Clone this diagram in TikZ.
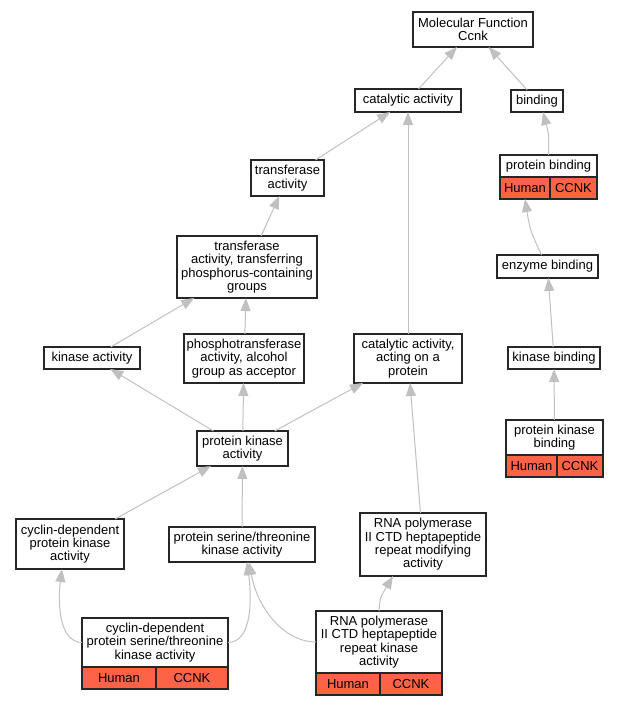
\documentclass[tikz,border=0pt]{standalone}
\usepackage{fontspec}
\setmainfont{Liberation Sans}
\usetikzlibrary{arrows.meta}
\usetikzlibrary{calc}
\definecolor{geneRed}{RGB}{255,99,71}
\definecolor{linkGray}{RGB}{192,192,192}
\newcommand{\drawCells}[3]{
	\node[cell, minimum width=#2, anchor=north west] (#1_human) at (#1.south west) {Human};
	\node[cell, minimum width=#3, anchor=north east] (#1_gene) at (#1.south east) {CCNK};
}

\begin{document}
\begin{tikzpicture}[x=1pt, y=-1pt,
		term/.style={draw=black!85, line width=1.2pt, fill=white, inner sep=0pt, outer sep=0pt, align=center, font=\fontsize{13}{13.3}\selectfont},
		cell/.style={term, fill=geneRed, minimum height=22pt},
		link/.style={draw=linkGray, line width=1pt, -{Triangle[length=13pt,width=10pt]}}]
		\useasboundingbox (0,0) rectangle (619,707);

		% terms
		\node[term, minimum width=120, minimum height=35] (mf) at (473,29.5) {Molecular Function\\Ccnk};
		\node[term, minimum width=106, minimum height=23] (cat) at (408,100.5) {catalytic activity};
		\node[term, minimum width=52, minimum height=22] (bind) at (537,101) {binding};
		\node[term, minimum width=97, minimum height=22] (pbind) at (548.5,166) {protein binding};
		\drawCells{pbind}{50}{47}
		\node[term, minimum width=73, minimum height=36] (trans) at (287.5,178) {transferase\\activity};
		\node[term, minimum width=101, minimum height=23] (enz) at (547.5,266.5) {enzyme binding};
		\node[term, minimum width=140, minimum height=62] (tpc) at (247,267) {transferase\\activity, transferring\\phosphorus-containing\\groups};
		\node[term, minimum width=96, minimum height=22] (kin) at (92,358) {kinase activity};
		\node[term, minimum width=120, minimum height=49] (phos) at (244,358.5) {phosphotransferase\\activity, alcohol\\group as acceptor};
		\node[term, minimum width=108, minimum height=49] (catprot) at (408,358.5) {catalytic activity,\\acting on a\\protein};
		\node[term, minimum width=92, minimum height=22] (kbind) at (554,358) {kinase binding};
		\node[term, minimum width=91, minimum height=35] (pka) at (242.5,448.5) {protein kinase\\activity};
		\node[term, minimum width=97, minimum height=35] (pkb) at (554.5,437.5) {protein kinase\\binding};
		\drawCells{pkb}{51}{46}
		\node[term, minimum width=108, minimum height=50] (cdk) at (70,544) {cyclin-dependent\\protein kinase\\activity};
		\node[term, minimum width=146, minimum height=35] (sert) at (242,544.5) {protein serine/threonine\\kinase activity};
		\node[term, minimum width=126, minimum height=63] (rnamod) at (423,544.5) {RNA polymerase\\II CTD heptapeptide\\repeat modifying\\activity};
		\node[term, minimum width=146, minimum height=49] (cdkst) at (155,642.5) {cyclin-dependent\\protein serine/threonine\\kinase activity};
		\drawCells{cdkst}{74}{72}
		\node[term, minimum width=126, minimum height=62] (rnak) at (379,642) {RNA polymerase\\II CTD heptapeptide\\repeat kinase\\activity};
		\drawCells{rnak}{64}{62}

		% links
		\draw[link] (cat) -- (mf);
		\draw[link] (bind) -- (mf);
		\draw[link] (pbind.north) .. controls (549,135) .. ($(bind.south)+(6,0)$);
		\draw[link] ($(enz.north)+(-6,0)$) .. controls (530,230) .. (pbind_human.south);
		\draw[link] (kbind) -- (enz);
		\draw[link] (pkb) -- (kbind);
		\draw[link] (trans) -- (cat);
		\draw[link] (tpc) -- (trans);
		\draw[link] (kin) -- (tpc);
		\draw[link] (phos) -- (tpc);
		\draw[link] (catprot) -- (cat);
		\draw[link] (pka) -- (kin);
		\draw[link] (pka) -- (phos);
		\draw[link] (pka) -- (catprot);
		\draw[link] (cdk) -- (pka);
		\draw[link] (sert) -- (pka);
		\draw[link] (rnamod) -- (catprot);
		\draw[link] (cdkst.west) .. controls (58,642) and (58,600) .. ($(cdk.south)+(-8,0)$);
		\draw[link] (cdkst.east) .. controls (252,642) and (252,600) .. ($(sert.south)+(5,0)$);
		\draw[link] (rnak.west) .. controls (285,642) and (258,610) .. ($(sert.south)+(7,0)$);
		\draw[link] (rnak.north) .. controls (380,598) .. ($(rnamod.south)+(-30,0)$);
	\end{tikzpicture}
\end{document}
